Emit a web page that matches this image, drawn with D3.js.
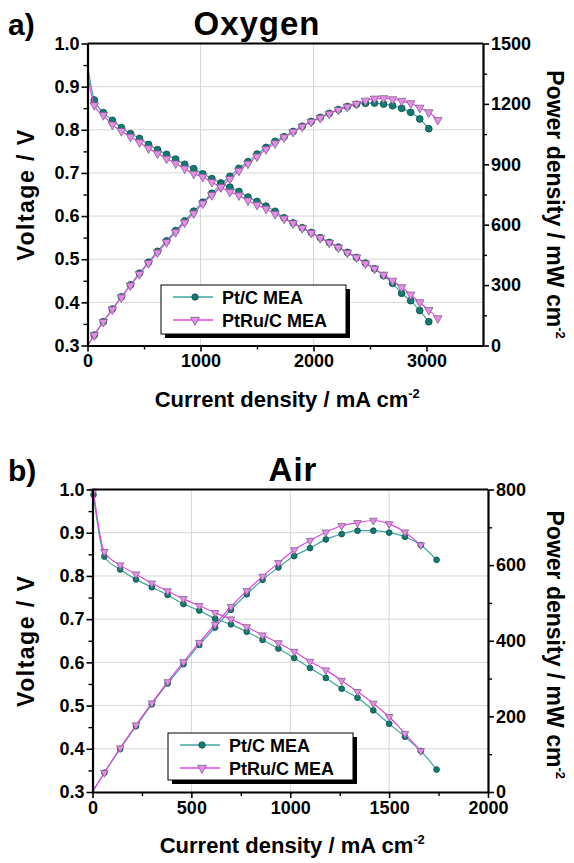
<!DOCTYPE html>
<html>
<head>
<meta charset="utf-8">
<script src="https://cdn.jsdelivr.net/npm/d3@7"></script>
<style>
  body { margin: 0; background: #fff; }
  text { font-family: "Liberation Sans", Arial, sans-serif; font-weight: bold; }
</style>
</head>
<body>
<script>
"use strict";
// ---- data ----
// a) Oxygen
var oxCurrent = [3, 60, 140, 220, 300, 380, 460, 540, 620, 700, 780, 860, 940, 1020, 1100, 1180, 1260, 1340, 1420, 1500,
    1580, 1660, 1740, 1820, 1900, 1980, 2060, 2140, 2220, 2300, 2380, 2460, 2540, 2620, 2700, 2780, 2860, 2940, 3020, 3100];
var oxPtVolt = [0.945, 0.869, 0.840, 0.822, 0.805, 0.791, 0.780, 0.766, 0.754, 0.743, 0.732, 0.720, 0.710, 0.698, 0.687,
    0.677, 0.667, 0.657, 0.644, 0.634, 0.623, 0.611, 0.596, 0.584, 0.573, 0.562, 0.550, 0.539, 0.528, 0.516, 0.504,
    0.491, 0.478, 0.462, 0.444, 0.421, 0.404, 0.381, 0.355];
var oxPtRuVolt = [0.925, 0.857, 0.834, 0.812, 0.797, 0.784, 0.771, 0.757, 0.745, 0.733, 0.722, 0.710, 0.698, 0.691, 0.679,
    0.667, 0.656, 0.648, 0.636, 0.626, 0.617, 0.605, 0.594, 0.583, 0.572, 0.561, 0.549, 0.538, 0.527, 0.515, 0.504,
    0.490, 0.478, 0.464, 0.450, 0.435, 0.418, 0.400, 0.382, 0.363];
var oxPtPower = [0, 52, 118, 181, 242, 301, 359, 414, 468, 520, 571, 619, 667, 712, 756, 799, 840, 880, 913, 951,
    984, 1014, 1037, 1063, 1089, 1113, 1133, 1153, 1172, 1187, 1198, 1203, 1204, 1199, 1191, 1178, 1158, 1125, 1077];
var oxPtRuPower = [0, 51, 117, 179, 239, 298, 355, 409, 462, 513, 563, 611, 656, 705, 747, 787, 827, 868, 903, 939,
    975, 1004, 1034, 1061, 1087, 1111, 1131, 1151, 1170, 1186, 1200, 1216, 1226, 1228, 1223, 1215, 1203, 1181, 1158, 1120];

// b) Air
var airCurrent = [5, 60, 140, 220, 300, 380, 460, 540, 620, 700, 780, 860, 940, 1020, 1100, 1180, 1260, 1340, 1420,
    1500, 1580, 1660, 1740];
var airPtVolt = [0.988, 0.845, 0.815, 0.792, 0.774, 0.756, 0.735, 0.720, 0.701, 0.688, 0.671, 0.652, 0.632, 0.610,
    0.587, 0.564, 0.539, 0.518, 0.489, 0.458, 0.428, 0.395, 0.352];
var airPtRuVolt = [0.996, 0.856, 0.825, 0.804, 0.783, 0.765, 0.747, 0.731, 0.715, 0.700, 0.682, 0.663, 0.645, 0.625,
    0.602, 0.582, 0.558, 0.532, 0.505, 0.474, 0.435, 0.395];
var airPtPower = [5, 51, 114, 174, 232, 287, 338, 389, 435, 482, 523, 561, 594, 624, 645, 668, 682, 691, 691, 686,
    675, 653, 614];
var airPtRuPower = [5, 51, 116, 177, 235, 291, 344, 395, 443, 490, 532, 570, 606, 640, 665, 687, 704, 712, 718, 709,
    687, 653];

// ticks
var voltTicks = [0.3, 0.4, 0.5, 0.6, 0.7, 0.8, 0.9, 1.0];
var oxCurrentTicks = [0, 1000, 2000, 3000];
var airCurrentTicks = [0, 500, 1000, 1500, 2000];
var oxPowerTicks = [0, 300, 600, 900, 1200, 1500];
var airPowerTicks = [0, 200, 400, 600, 800];
var seriesNames = ["Pt/C MEA", "PtRu/C MEA"];

// ---- styles ----
var teal = { line: "#3fa59f", fill: "#137a71", stroke: "#0b4f4a" };
var pink = { line: "#e245e2", fill: "#e68ce9", stroke: "#80608a" };

var svg = d3.select("body").append("svg")
    .attr("width", 574)
    .attr("height", 863);

function tri(w) {
    var h = w * 0.9;
    return "M" + (-w / 2) + "," + (-h / 3) + "L" + (w / 2) + "," + (-h / 3) + "L0," + (2 * h / 3) + "Z";
}

function drawPanel(cfg) {
    var x = d3.scaleLinear().domain([0, cfg.xMax]).range([cfg.left, cfg.right]);
    var yV = d3.scaleLinear().domain([0.3, 1.0]).range([cfg.bottom, cfg.top]);
    var yP = d3.scaleLinear().domain([0, cfg.pMax]).range([cfg.bottom, cfg.top]);
    var g = svg.append("g");

    // grid
    g.selectAll(".vg").data(cfg.xTicks.slice(1, -1)).enter().append("line")
        .attr("x1", x).attr("x2", x).attr("y1", cfg.top).attr("y2", cfg.bottom)
        .attr("stroke", "#d6d6d6").attr("stroke-width", 1);
    g.selectAll(".hg").data(voltTicks.slice(1, -1)).enter().append("line")
        .attr("y1", yV).attr("y2", yV).attr("x1", cfg.left).attr("x2", cfg.right)
        .attr("stroke", "#d6d6d6").attr("stroke-width", 1);

    var lineV = d3.line().x(function(d) { return x(d[0]); }).y(function(d) { return yV(d[1]); }).curve(d3.curveMonotoneX);
    var lineP = d3.line().x(function(d) { return x(d[0]); }).y(function(d) { return yP(d[1]); }).curve(d3.curveMonotoneX);

    var series = [
        { v: cfg.ptV, p: cfg.ptP, c: teal, shape: "circle" },
        { v: cfg.ruV, p: cfg.ruP, c: pink, shape: "tri" }
    ];
    series.forEach(function(s) {
        var vd = d3.zip(cfg.current.slice(0, s.v.length), s.v);
        var pd = d3.zip(cfg.current.slice(0, s.p.length), s.p);
        g.append("path").attr("d", lineV(vd)).attr("fill", "none").attr("stroke", s.c.line).attr("stroke-width", 1.2);
        g.append("path").attr("d", lineP(pd)).attr("fill", "none").attr("stroke", s.c.line).attr("stroke-width", 1.2);
        var pts = vd.slice(cfg.skipFirst ? 1 : 0).map(function(d) { return [x(d[0]), yV(d[1])]; })
            .concat(pd.slice(1).map(function(d) { return [x(d[0]), yP(d[1])]; }));
        if (s.shape === "circle") {
            g.selectAll(null).data(pts).enter().append("circle")
                .attr("cx", function(d) { return d[0]; }).attr("cy", function(d) { return d[1]; })
                .attr("r", cfg.r).attr("fill", s.c.fill).attr("stroke", s.c.stroke).attr("stroke-width", 0.8);
        } else {
            g.selectAll(null).data(pts).enter().append("path")
                .attr("transform", function(d) { return "translate(" + d[0] + "," + d[1] + ")"; })
                .attr("d", tri(cfg.tw)).attr("fill", s.c.fill).attr("stroke", s.c.stroke).attr("stroke-width", 0.8);
        }
    });

    // axes
    function style(sel) {
        sel.attr("font-size", null).attr("font-family", null);
        sel.selectAll("text").style("font-size", "18px").attr("fill", "#000");
        sel.selectAll("line").attr("stroke-width", 1.6);
        sel.select(".domain").attr("stroke-width", 2.2);
    }
    function minor(sel) {
        sel.select(".domain").remove();
        sel.selectAll("line").attr("stroke-width", 1.4);
    }
    var xMinor = d3.range(cfg.xStep / 2, cfg.xMax, cfg.xStep);
    var vMinor = d3.range(0.35, 1.0, 0.1);
    var pMinor = d3.range(cfg.pStep / 2, cfg.pMax, cfg.pStep);

    g.append("g").attr("transform", "translate(0," + cfg.bottom + ")")
        .call(d3.axisBottom(x).tickValues(xMinor).tickSize(4).tickFormat("")).call(minor);
    g.append("g").attr("transform", "translate(" + cfg.left + ",0)")
        .call(d3.axisLeft(yV).tickValues(vMinor).tickSize(4).tickFormat("")).call(minor);
    g.append("g").attr("transform", "translate(" + cfg.right + ",0)")
        .call(d3.axisRight(yP).tickValues(pMinor).tickSize(4).tickFormat("")).call(minor);

    g.append("g").attr("transform", "translate(0," + cfg.bottom + ")")
        .call(d3.axisBottom(x).tickValues(cfg.xTicks).tickFormat(d3.format("d"))
            .tickSize(6).tickSizeOuter(0).tickPadding(3)).call(style);
    g.append("g").attr("transform", "translate(" + cfg.left + ",0)")
        .call(d3.axisLeft(yV).tickValues(voltTicks).tickFormat(d3.format(".1f")).tickSize(6).tickSizeOuter(0).tickPadding(2))
        .call(style);
    g.append("g").attr("transform", "translate(" + cfg.right + ",0)")
        .call(d3.axisRight(yP).tickValues(cfg.pTicks).tickFormat(d3.format("d"))
            .tickSize(6).tickSizeOuter(0).tickPadding(2)).call(style);
    g.append("line").attr("x1", cfg.left).attr("x2", cfg.right).attr("y1", cfg.top).attr("y2", cfg.top)
        .attr("stroke", "#000").attr("stroke-width", 2.2);

    // titles
    g.append("text").attr("x", 8).attr("y", cfg.top - 9).style("font-size", "30px").text(cfg.letter);
    g.append("text").attr("x", cfg.titleX).attr("y", cfg.top - 9)
        .attr("text-anchor", "middle").style("font-size", "33px").style("letter-spacing", "1px").text(cfg.title);

    var xt = g.append("text").attr("x", (cfg.left + cfg.right) / 2 + 2).attr("y", cfg.bottom + 61)
        .attr("text-anchor", "middle").style("font-size", "22px");
    xt.append("tspan").text("Current density / mA cm");
    xt.append("tspan").attr("dy", -9).style("font-size", "13px").text("-2");

    g.append("text").attr("transform", "translate(34," + (cfg.top + cfg.bottom) / 2 + ") rotate(-90)")
        .attr("text-anchor", "middle").style("font-size", "23px").style("letter-spacing", "1.5px").text("Voltage / V");

    var yt = g.append("text").attr("transform", "translate(547," + ((cfg.top + cfg.bottom) / 2 + cfg.pTitleShift) + ") rotate(90)")
        .attr("text-anchor", "middle").style("font-size", "23px");
    yt.append("tspan").text("Power density / mW cm");
    yt.append("tspan").attr("dy", -9).style("font-size", "13px").text("-2");

    // legend
    var lg = g.append("g").attr("transform", "translate(" + cfg.legX + "," + cfg.legY + ")");
    lg.append("rect").attr("x", 4).attr("y", 4).attr("width", 185).attr("height", cfg.legH).attr("fill", "#000");
    lg.append("rect").attr("width", 185).attr("height", cfg.legH).attr("fill", "#fff")
        .attr("stroke", "#000").attr("stroke-width", 1);
    seriesNames.forEach(function(name, i) {
        var cy = 12 + i * 23, c = i === 0 ? teal : pink;
        lg.append("line").attr("x1", 12).attr("x2", 52).attr("y1", cy).attr("y2", cy)
            .attr("stroke", c.line).attr("stroke-width", 1.4);
        if (i === 0) {
            lg.append("circle").attr("cx", 34).attr("cy", cy).attr("r", 3.2)
                .attr("fill", c.fill).attr("stroke", c.stroke).attr("stroke-width", 0.8);
        } else {
            lg.append("path").attr("transform", "translate(34," + cy + ")").attr("d", tri(9))
                .attr("fill", c.fill).attr("stroke", c.stroke).attr("stroke-width", 0.8);
        }
        lg.append("text").attr("x", 61).attr("y", cy + 6.5).style("font-size", "18px").text(name);
    });
}

drawPanel({
    letter: "a)", title: "Oxygen", titleX: 257, skipFirst: true, pTitleShift: 10,
    left: 87.5, right: 483, top: 43.5, bottom: 345.5,
    xMax: 3500, xTicks: oxCurrentTicks, xStep: 1000,
    pMax: 1500, pTicks: oxPowerTicks, pStep: 300,
    current: oxCurrent, ptV: oxPtVolt, ruV: oxPtRuVolt, ptP: oxPtPower, ruP: oxPtRuPower,
    r: 3.4, tw: 8.5, legX: 161, legY: 285, legH: 49
});
drawPanel({
    letter: "b)", title: "Air", titleX: 293, skipFirst: false, pTitleShift: 4,
    left: 92.5, right: 488, top: 489.5, bottom: 792,
    xMax: 2000, xTicks: airCurrentTicks, xStep: 500,
    pMax: 800, pTicks: airPowerTicks, pStep: 200,
    current: airCurrent, ptV: airPtVolt, ruV: airPtRuVolt, ptP: airPtPower, ruP: airPtRuPower,
    r: 2.9, tw: 7.5, legX: 168, legY: 733, legH: 47
});
</script>
</body>
</html>
